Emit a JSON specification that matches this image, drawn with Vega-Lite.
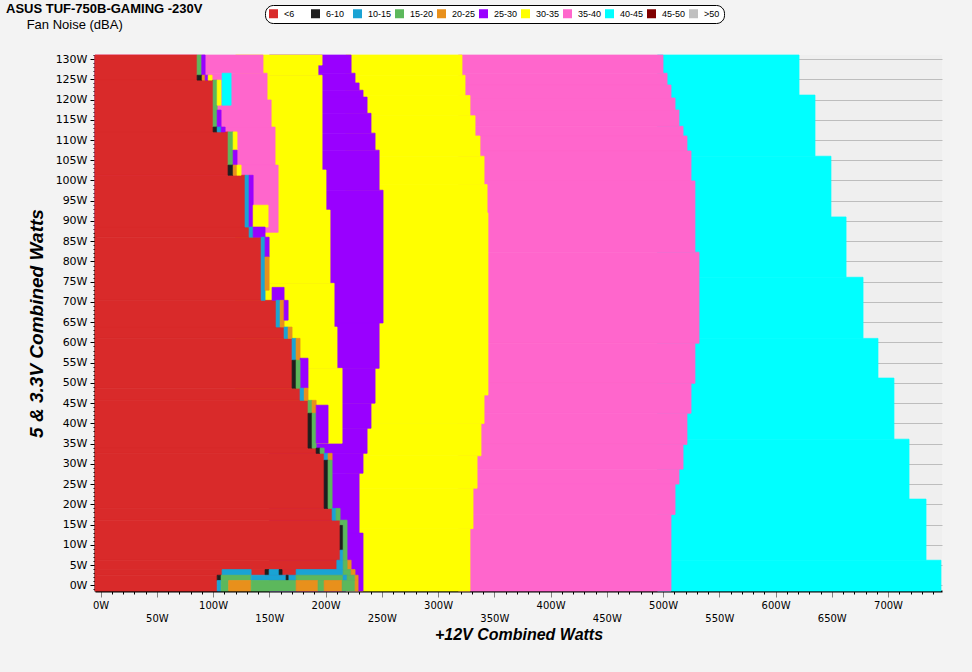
{
  "$schema": "https://vega.github.io/schema/vega-lite/v6.json",
  "width": 847,
  "height": 536,
  "autosize": {"type": "none"},
  "padding": {"left": 95, "top": 55, "right": 30, "bottom": 81},
  "background": "#f3f3f3",
  "title": {
    "text": "ASUS TUF-750B-GAMING -230V",
    "subtitle": "\u200b\u00a0\u00a0\u00a0\u00a0\u00a0\u2009Fan Noise (dBA)",
    "anchor": "start",
    "frame": "group",
    "dx": -89,
    "dy": 31,
    "font": "Liberation Sans",
    "fontSize": 13,
    "fontWeight": "bold",
    "color": "black",
    "subtitleFont": "Liberation Sans",
    "subtitleFontSize": 13,
    "subtitleColor": "black",
    "subtitlePadding": 3
  },
  "config": {
    "view": {"fill": "#efefef", "stroke": null}
  },
  "data": {
    "values": [
      {"x": 495, "x2": 620.9, "y": 121.1, "y2": 131, "c": "40-45"},
      {"x": 495, "x2": 635.1, "y": 106, "y2": 121.1, "c": "40-45"},
      {"x": 495, "x2": 649.3, "y": 91, "y2": 106, "c": "40-45"},
      {"x": 495, "x2": 662.7, "y": 76.1, "y2": 91, "c": "40-45"},
      {"x": 495, "x2": 677.8, "y": 61, "y2": 76.1, "c": "40-45"},
      {"x": 495, "x2": 691.1, "y": 51.2, "y2": 61, "c": "40-45"},
      {"x": 495, "x2": 705.3, "y": 36.1, "y2": 51.2, "c": "40-45"},
      {"x": 495, "x2": 718.7, "y": 21.3, "y2": 36.1, "c": "40-45"},
      {"x": 495, "x2": 733.8, "y": 6.2, "y2": 21.3, "c": "40-45"},
      {"x": 495, "x2": 747.1, "y": -1.4, "y2": 6.2, "c": "40-45"},

      {"x": 318, "x2": 500, "y": 126.5, "y2": 131, "c": "35-40"},
      {"x": 318, "x2": 503.6, "y": 123.6, "y2": 126.5, "c": "35-40"},
      {"x": 318, "x2": 507.1, "y": 120.4, "y2": 123.6, "c": "35-40"},
      {"x": 318, "x2": 510.7, "y": 117.4, "y2": 120.4, "c": "35-40"},
      {"x": 318, "x2": 514.2, "y": 113.4, "y2": 117.4, "c": "35-40"},
      {"x": 318, "x2": 517.8, "y": 111, "y2": 113.4, "c": "35-40"},
      {"x": 318, "x2": 521.3, "y": 107.3, "y2": 111, "c": "35-40"},
      {"x": 318, "x2": 524.9, "y": 99.9, "y2": 107.3, "c": "35-40"},
      {"x": 318, "x2": 528.4, "y": 82.3, "y2": 99.9, "c": "35-40"},
      {"x": 318, "x2": 532, "y": 59.8, "y2": 82.3, "c": "35-40"},
      {"x": 318, "x2": 528.4, "y": 49.9, "y2": 59.8, "c": "35-40"},
      {"x": 318, "x2": 524.9, "y": 42.5, "y2": 49.9, "c": "35-40"},
      {"x": 318, "x2": 521.3, "y": 34.8, "y2": 42.5, "c": "35-40"},
      {"x": 318, "x2": 517.8, "y": 28.7, "y2": 34.8, "c": "35-40"},
      {"x": 318, "x2": 514.2, "y": 25, "y2": 28.7, "c": "35-40"},
      {"x": 318, "x2": 510.7, "y": 17.5, "y2": 25, "c": "35-40"},
      {"x": 318, "x2": 507.1, "y": -1.4, "y2": 17.5, "c": "35-40"},

      {"x": 218, "x2": 321.3, "y": 126, "y2": 131, "c": "30-35"},
      {"x": 218, "x2": 324, "y": 121, "y2": 126, "c": "30-35"},
      {"x": 218, "x2": 328.4, "y": 116, "y2": 121, "c": "30-35"},
      {"x": 218, "x2": 332.9, "y": 111, "y2": 116, "c": "30-35"},
      {"x": 218, "x2": 337.3, "y": 106, "y2": 111, "c": "30-35"},
      {"x": 218, "x2": 340.9, "y": 99, "y2": 106, "c": "30-35"},
      {"x": 218, "x2": 343.6, "y": 92, "y2": 99, "c": "30-35"},
      {"x": 218, "x2": 344.4, "y": 47, "y2": 92, "c": "30-35"},
      {"x": 218, "x2": 340.9, "y": 40, "y2": 47, "c": "30-35"},
      {"x": 218, "x2": 338.2, "y": 32, "y2": 40, "c": "30-35"},
      {"x": 218, "x2": 334.7, "y": 24, "y2": 32, "c": "30-35"},
      {"x": 218, "x2": 331.1, "y": 14, "y2": 24, "c": "30-35"},
      {"x": 218, "x2": 328.4, "y": -1.4, "y2": 14, "c": "30-35"},

      {"x": 150, "x2": 222.7, "y": 126.5, "y2": 131, "c": "25-30"},
      {"x": 150, "x2": 226.2, "y": 124.1, "y2": 126.5, "c": "25-30"},
      {"x": 150, "x2": 229.8, "y": 122.3, "y2": 124.1, "c": "25-30"},
      {"x": 150, "x2": 233.3, "y": 120.6, "y2": 122.3, "c": "25-30"},
      {"x": 150, "x2": 236.9, "y": 116.6, "y2": 120.6, "c": "25-30"},
      {"x": 150, "x2": 240.4, "y": 111.7, "y2": 116.6, "c": "25-30"},
      {"x": 150, "x2": 244, "y": 107.5, "y2": 111.7, "c": "25-30"},
      {"x": 150, "x2": 247.6, "y": 97.6, "y2": 107.5, "c": "25-30"},
      {"x": 150, "x2": 251.1, "y": 64.8, "y2": 97.6, "c": "25-30"},
      {"x": 150, "x2": 247.6, "y": 53.6, "y2": 64.8, "c": "25-30"},
      {"x": 150, "x2": 244, "y": 45, "y2": 53.6, "c": "25-30"},
      {"x": 150, "x2": 240.4, "y": 38.8, "y2": 45, "c": "25-30"},
      {"x": 150, "x2": 236.9, "y": 32.6, "y2": 38.8, "c": "25-30"},
      {"x": 150, "x2": 233.3, "y": 27.7, "y2": 32.6, "c": "25-30"},
      {"x": 150, "x2": 229.8, "y": 12.9, "y2": 27.7, "c": "25-30"},
      {"x": 150, "x2": 233.3, "y": -1.4, "y2": 12.9, "c": "25-30"},

      {"x": 120, "x2": 196.9, "y": 128.5, "y2": 131, "c": "30-35"},
      {"x": 120, "x2": 193.3, "y": 126, "y2": 128.5, "c": "30-35"},
      {"x": 120, "x2": 196.9, "y": 102.6, "y2": 126, "c": "30-35"},
      {"x": 120, "x2": 200.4, "y": 92.7, "y2": 102.6, "c": "30-35"},
      {"x": 120, "x2": 204, "y": 74.6, "y2": 92.7, "c": "30-35"},
      {"x": 120, "x2": 207.6, "y": 63.8, "y2": 74.6, "c": "30-35"},
      {"x": 120, "x2": 210.2, "y": 53.6, "y2": 63.8, "c": "30-35"},
      {"x": 120, "x2": 214.7, "y": 35.1, "y2": 53.6, "c": "30-35"},

      {"x": -5, "x2": 144.4, "y": 126.5, "y2": 131, "c": "35-40"},
      {"x": -5, "x2": 148, "y": 119.9, "y2": 126.5, "c": "35-40"},
      {"x": -5, "x2": 151.6, "y": 113.2, "y2": 119.9, "c": "35-40"},
      {"x": -5, "x2": 155.1, "y": 103.8, "y2": 113.2, "c": "35-40"},
      {"x": -5, "x2": 157.8, "y": 87.2, "y2": 103.8, "c": "35-40"},

      {"x": -5, "x2": 85.8, "y": 124.8, "y2": 131, "c": "<6"},
      {"x": -5, "x2": 100, "y": 112, "y2": 124.8, "c": "<6"},
      {"x": -5, "x2": 113.3, "y": 101.3, "y2": 112, "c": "<6"},
      {"x": -5, "x2": 128.4, "y": 88.5, "y2": 101.3, "c": "<6"},
      {"x": -5, "x2": 132, "y": 86, "y2": 88.5, "c": "<6"},
      {"x": -5, "x2": 142.7, "y": 70.4, "y2": 86, "c": "<6"},
      {"x": -5, "x2": 156, "y": 63.8, "y2": 70.4, "c": "<6"},
      {"x": -5, "x2": 163.1, "y": 61, "y2": 63.8, "c": "<6"},
      {"x": -5, "x2": 170.2, "y": 48.7, "y2": 61, "c": "<6"},
      {"x": -5, "x2": 177.3, "y": 45.7, "y2": 48.7, "c": "<6"},
      {"x": -5, "x2": 184.4, "y": 33.9, "y2": 45.7, "c": "<6"},
      {"x": -5, "x2": 191.6, "y": 32.6, "y2": 33.9, "c": "<6"},
      {"x": -5, "x2": 198.7, "y": 19, "y2": 32.6, "c": "<6"},
      {"x": -5, "x2": 205.8, "y": 16.1, "y2": 19, "c": "<6"},
      {"x": -5, "x2": 212.9, "y": 6.2, "y2": 16.1, "c": "<6"},
      {"x": -5, "x2": 210, "y": 3.9, "y2": 6.2, "c": "<6"},
      {"x": -5, "x2": 173.8, "y": 2.5, "y2": 3.9, "c": "<6"},
      {"x": -5, "x2": 103.6, "y": -1.4, "y2": 2.5, "c": "<6"},

      {"x": 85.8, "x2": 89.9, "y": 126, "y2": 131, "c": "15-20"},
      {"x": 89.9, "x2": 92.9, "y": 126, "y2": 131, "c": "25-30"},
      {"x": 85.8, "x2": 90.2, "y": 124.8, "y2": 126, "c": "6-10"},
      {"x": 90.2, "x2": 92.9, "y": 124.8, "y2": 126, "c": "20-25"},
      {"x": 92.9, "x2": 95.6, "y": 124.8, "y2": 126, "c": "25-30"},
      {"x": 95.6, "x2": 99.1, "y": 124.8, "y2": 126, "c": "30-35"},
      {"x": 100, "x2": 103.6, "y": 113.2, "y2": 124.8, "c": "15-20"},
      {"x": 103.6, "x2": 107.1, "y": 118.6, "y2": 124.8, "c": "30-35"},
      {"x": 103.6, "x2": 107.1, "y": 113.2, "y2": 117.4, "c": "25-30"},
      {"x": 108, "x2": 116, "y": 118.6, "y2": 126.5, "c": "40-45"},
      {"x": 100, "x2": 103.6, "y": 112, "y2": 113.2, "c": "6-10"},
      {"x": 103.6, "x2": 107.1, "y": 112, "y2": 113.2, "c": "10-15"},
      {"x": 107.1, "x2": 110.7, "y": 112, "y2": 113.2, "c": "25-30"},
      {"x": 113.3, "x2": 117.8, "y": 103.8, "y2": 112, "c": "15-20"},
      {"x": 117.8, "x2": 121.3, "y": 107.5, "y2": 112, "c": "30-35"},
      {"x": 117.8, "x2": 121.3, "y": 103.8, "y2": 107.5, "c": "25-30"},
      {"x": 113.3, "x2": 117.8, "y": 101.3, "y2": 103.8, "c": "6-10"},
      {"x": 117.8, "x2": 121.3, "y": 101.3, "y2": 103.8, "c": "20-25"},
      {"x": 121.3, "x2": 124.9, "y": 101.3, "y2": 103.8, "c": "30-35"},
      {"x": 128.4, "x2": 132, "y": 88.5, "y2": 101.3, "c": "10-15"},
      {"x": 132, "x2": 135.6, "y": 88.5, "y2": 101.3, "c": "25-30"},
      {"x": 135.6, "x2": 148.9, "y": 88.5, "y2": 93.9, "c": "30-35"},
      {"x": 132, "x2": 135.6, "y": 86, "y2": 88.5, "c": "10-15"},
      {"x": 135.6, "x2": 146.2, "y": 86, "y2": 88.5, "c": "25-30"},
      {"x": 142.7, "x2": 146.2, "y": 70.4, "y2": 86, "c": "10-15"},
      {"x": 146.2, "x2": 149.8, "y": 81.1, "y2": 86, "c": "25-30"},
      {"x": 146.2, "x2": 149.8, "y": 72.9, "y2": 81.1, "c": "20-25"},
      {"x": 152.4, "x2": 163.1, "y": 70.4, "y2": 73.6, "c": "25-30"},
      {"x": 156, "x2": 159.6, "y": 63.8, "y2": 70.4, "c": "10-15"},
      {"x": 159.6, "x2": 163.1, "y": 63.8, "y2": 70.4, "c": "20-25"},
      {"x": 163.1, "x2": 166.7, "y": 65.5, "y2": 70.4, "c": "25-30"},
      {"x": 163.1, "x2": 166.7, "y": 61, "y2": 63.8, "c": "10-15"},
      {"x": 166.7, "x2": 170.2, "y": 61, "y2": 63.8, "c": "20-25"},
      {"x": 170.2, "x2": 173.8, "y": 55.6, "y2": 61, "c": "10-15"},
      {"x": 173.8, "x2": 177.3, "y": 55.6, "y2": 61, "c": "20-25"},
      {"x": 177.3, "x2": 184.4, "y": 48.7, "y2": 56.1, "c": "25-30"},
      {"x": 170.2, "x2": 173.8, "y": 48.7, "y2": 55.6, "c": "6-10"},
      {"x": 173.8, "x2": 177.3, "y": 48.7, "y2": 55.6, "c": "15-20"},
      {"x": 177.3, "x2": 181, "y": 45.7, "y2": 48.7, "c": "10-15"},
      {"x": 181, "x2": 184.4, "y": 45.7, "y2": 48.7, "c": "20-25"},
      {"x": 184.4, "x2": 188, "y": 42.5, "y2": 45.7, "c": "15-20"},
      {"x": 188, "x2": 191.6, "y": 42.5, "y2": 45.7, "c": "20-25"},
      {"x": 184.4, "x2": 188, "y": 33.9, "y2": 42.5, "c": "6-10"},
      {"x": 188, "x2": 191.6, "y": 33.9, "y2": 42.5, "c": "15-20"},
      {"x": 191.6, "x2": 202.2, "y": 35.1, "y2": 44.5, "c": "25-30"},
      {"x": 191.6, "x2": 195.1, "y": 32.6, "y2": 33.9, "c": "6-10"},
      {"x": 195.1, "x2": 198.7, "y": 32.6, "y2": 33.9, "c": "15-20"},
      {"x": 198.7, "x2": 202.2, "y": 30.9, "y2": 32.6, "c": "10-15"},
      {"x": 202.2, "x2": 205.8, "y": 30.9, "y2": 32.6, "c": "20-25"},
      {"x": 198.7, "x2": 202.2, "y": 19, "y2": 30.9, "c": "6-10"},
      {"x": 202.2, "x2": 205.8, "y": 19, "y2": 30.9, "c": "15-20"},
      {"x": 205.8, "x2": 209.3, "y": 16.1, "y2": 19, "c": "10-15"},
      {"x": 209.3, "x2": 212.9, "y": 16.1, "y2": 19, "c": "15-20"},
      {"x": 212.9, "x2": 215.6, "y": 14.8, "y2": 16.1, "c": "15-20"},
      {"x": 212.9, "x2": 215.6, "y": 8.7, "y2": 14.8, "c": "6-10"},
      {"x": 212.9, "x2": 215.6, "y": 6.2, "y2": 8.7, "c": "10-15"},
      {"x": 215.6, "x2": 219.1, "y": 6.2, "y2": 16.1, "c": "15-20"},
      {"x": 219.1, "x2": 222.7, "y": 3.9, "y2": 6.2, "c": "20-25"},
      {"x": 210, "x2": 215.6, "y": 3.9, "y2": 6.2, "c": "10-15"},
      {"x": 215.6, "x2": 219.1, "y": 3.9, "y2": 6.2, "c": "15-20"},
      {"x": 108, "x2": 133.8, "y": 2.5, "y2": 3.9, "c": "10-15"},
      {"x": 146.2, "x2": 149.8, "y": 2.5, "y2": 3.9, "c": "6-10"},
      {"x": 149.8, "x2": 158.7, "y": 2.5, "y2": 3.9, "c": "10-15"},
      {"x": 158.7, "x2": 161.3, "y": 2.5, "y2": 3.9, "c": "6-10"},
      {"x": 173.8, "x2": 215.6, "y": 2.5, "y2": 3.9, "c": "10-15"},
      {"x": 215.6, "x2": 222.7, "y": 2.5, "y2": 3.9, "c": "15-20"},
      {"x": 222.7, "x2": 226.2, "y": 2.5, "y2": 3.9, "c": "20-25"},
      {"x": 103.6, "x2": 107.1, "y": 1.2, "y2": 2.5, "c": "6-10"},
      {"x": 107.1, "x2": 133.8, "y": 1.2, "y2": 2.5, "c": "15-20"},
      {"x": 133.8, "x2": 173.8, "y": 1.2, "y2": 2.5, "c": "10-15"},
      {"x": 164.9, "x2": 166.7, "y": 1.2, "y2": 2.5, "c": "6-10"},
      {"x": 173.8, "x2": 215.6, "y": 1.2, "y2": 2.5, "c": "15-20"},
      {"x": 215.6, "x2": 219.1, "y": 1.2, "y2": 2.5, "c": "10-15"},
      {"x": 219.1, "x2": 226.2, "y": 1.2, "y2": 2.5, "c": "15-20"},
      {"x": 226.2, "x2": 228.9, "y": 1.2, "y2": 2.5, "c": "20-25"},
      {"x": 103.6, "x2": 107.1, "y": -1.4, "y2": 1.2, "c": "10-15"},
      {"x": 107.1, "x2": 113.8, "y": -1.4, "y2": 1.2, "c": "15-20"},
      {"x": 113.8, "x2": 133.8, "y": -1.4, "y2": 1.2, "c": "20-25"},
      {"x": 133.8, "x2": 173.8, "y": -1.4, "y2": 1.2, "c": "15-20"},
      {"x": 173.8, "x2": 193.3, "y": -1.4, "y2": 1.2, "c": "20-25"},
      {"x": 193.3, "x2": 198.7, "y": -1.4, "y2": 1.2, "c": "15-20"},
      {"x": 198.7, "x2": 214.7, "y": -1.4, "y2": 1.2, "c": "20-25"},
      {"x": 214.7, "x2": 226.2, "y": -1.4, "y2": 1.2, "c": "15-20"},
      {"x": 226.2, "x2": 228.9, "y": -1.4, "y2": 1.2, "c": "20-25"}
    ]
  },
  "mark": {"type": "rect", "strokeWidth": 0.7},
  "encoding": {
    "x": {
      "field": "x",
      "type": "quantitative",
      "scale": {"domain": [-5, 748], "nice": false, "zero": false},
      "axis": {
        "title": "+12V Combined Watts",
        "titleFont": "Liberation Sans",
        "titleFontSize": 16,
        "titleFontStyle": "italic",
        "titleFontWeight": "bold",
        "titleColor": "black",
        "titlePadding": 3,
        "tickCount": 75,
        "labelExpr": "datum.value % 50 === 0 ? datum.value + 'W' : ''",
        "labelFont": "DejaVu Sans",
        "labelFontSize": 10,
        "labelColor": "black",
        "labelPadding": {"condition": {"test": "datum.value % 100 !== 0", "value": 16}, "value": 3},
        "tickSize": {"condition": {"test": "datum.value % 50 === 0", "value": 6}, "value": 3},
        "tickColor": {"condition": {"test": "datum.value % 50 === 0", "value": "#808080"}, "value": "black"},
        "domainColor": "black",
        "domainWidth": 2,
        "grid": false,
        "labelOverlap": false,
        "labelFlush": false,
        "labelBound": false
      }
    },
    "x2": {"field": "x2"},
    "y": {
      "field": "y",
      "type": "quantitative",
      "scale": {"domain": [-1.4, 131], "nice": false, "zero": false},
      "axis": {
        "title": "5 & 3.3V Combined Watts",
        "titleFont": "Liberation Sans",
        "titleFontSize": 19,
        "titleFontStyle": "italic",
        "titleFontWeight": "bold",
        "titleColor": "black",
        "titlePadding": 9,
        "tickCount": 132,
        "labelExpr": "datum.value % 5 === 0 ? datum.value + 'W' : ''",
        "labelFont": "DejaVu Sans",
        "labelFontSize": 11,
        "labelColor": "black",
        "labelPadding": 3,
        "tickSize": {"condition": {"test": "datum.value % 5 === 0", "value": 5}, "value": 2},
        "tickColor": "black",
        "domainColor": "black",
        "domainWidth": 2,
        "grid": true,
        "gridColor": "#bdbdbd",
        "gridOpacity": {"condition": {"test": "datum.value % 5 === 0", "value": 1}, "value": 0},
        "labelOverlap": false,
        "labelFlush": false,
        "labelBound": false
      }
    },
    "y2": {"field": "y2"},
    "stroke": {
      "field": "c",
      "type": "nominal",
      "scale": {
        "domain": ["<6", "6-10", "10-15", "15-20", "20-25", "25-30", "30-35", "35-40", "40-45", "45-50", ">50"],
        "range": ["#d92a2a", "#1e1e1e", "#1aa3d4", "#5cb85c", "#e8901c", "#9900ff", "#ffff00", "#ff66cc", "#00ffff", "#800000", "#c0c0c0"]
      },
      "legend": null
    },
    "color": {
      "field": "c",
      "type": "nominal",
      "scale": {
        "domain": ["<6", "6-10", "10-15", "15-20", "20-25", "25-30", "30-35", "35-40", "40-45", "45-50", ">50"],
        "range": ["#d92a2a", "#1e1e1e", "#1aa3d4", "#5cb85c", "#e8901c", "#9900ff", "#ffff00", "#ff66cc", "#00ffff", "#800000", "#c0c0c0"]
      },
      "legend": {
        "title": null,
        "orient": "none",
        "legendX": 170,
        "legendY": -50,
        "direction": "horizontal",
        "columns": 11,
        "symbolType": "square",
        "symbolSize": 81,
        "symbolStrokeWidth": 0,
        "symbolOpacity": 1,
        "labelFont": "Liberation Sans",
        "labelFontSize": 9,
        "labelColor": "black",
        "labelOffset": 6,
        "gridAlign": "all",
        "columnPadding": 3,
        "fillColor": "white",
        "strokeColor": "black",
        "cornerRadius": 8,
        "padding": 4
      }
    }
  }
}
